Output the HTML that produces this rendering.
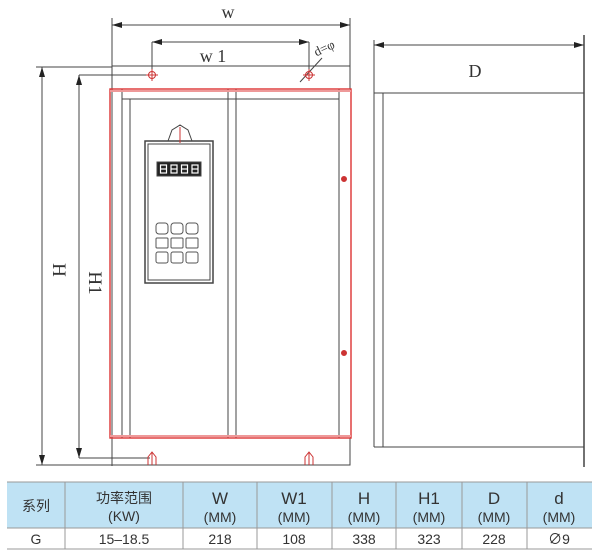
<!DOCTYPE html>
<html><head><meta charset="utf-8"><style>
body{margin:0;background:#fff;width:600px;height:555px;overflow:hidden}
svg{display:block}
.t{font-family:"Liberation Sans","Noto Sans CJK SC",sans-serif;fill:#333}
.s{font-family:"Liberation Serif",serif;fill:#333}
</style></head><body>
<svg width="600" height="555" viewBox="0 0 600 555" xmlns="http://www.w3.org/2000/svg">
<defs>
<marker id="a" viewBox="0 0 10 6" refX="10" refY="3" markerWidth="10" markerHeight="6" orient="auto-start-reverse" markerUnits="userSpaceOnUse"><path d="M0,0L10,3L0,6z" fill="#222"/></marker>
</defs>
<g stroke="#444" stroke-width="1" fill="none">
<line x1="112" y1="25" x2="350" y2="25" marker-start="url(#a)" marker-end="url(#a)"/>
<line x1="112" y1="18" x2="112" y2="466"/>
<line x1="350" y1="18" x2="350" y2="89"/>
<line x1="152" y1="42" x2="309" y2="42" marker-start="url(#a)" marker-end="url(#a)"/>
<line x1="152" y1="42" x2="152" y2="75"/>
<line x1="309" y1="42" x2="309" y2="75"/>
<line x1="300" y1="82" x2="322" y2="58"/>
<rect x="112" y="66" width="238" height="23"/>
<rect x="112" y="438" width="238" height="27"/>
<line x1="42" y1="67" x2="42" y2="465" marker-start="url(#a)" marker-end="url(#a)"/>
<line x1="36" y1="67" x2="112" y2="67"/>
<line x1="36" y1="465" x2="112" y2="465"/>
<line x1="79" y1="75" x2="79" y2="458" marker-start="url(#a)" marker-end="url(#a)"/>
<line x1="79" y1="75" x2="150" y2="75"/>
<line x1="79" y1="458" x2="150" y2="458"/>
<line x1="122" y1="89" x2="122" y2="438"/>
<line x1="130" y1="99" x2="130" y2="438"/>
<line x1="122" y1="99" x2="339" y2="99"/>
<line x1="228" y1="89" x2="228" y2="438"/>
<line x1="236" y1="89" x2="236" y2="438"/>
<line x1="339" y1="89" x2="339" y2="438"/>
<line x1="374" y1="45" x2="584" y2="45" marker-start="url(#a)" marker-end="url(#a)"/>
<line x1="374" y1="40" x2="374" y2="447"/>
<line x1="584" y1="35" x2="584" y2="467" stroke-width="1.5"/>
<line x1="374" y1="93" x2="584" y2="93"/>
<line x1="374" y1="447" x2="584" y2="447"/>
<line x1="383" y1="93" x2="383" y2="447"/>
<path d="M168,141 L172,130 L180,125 L188,130 L192,141"/>
<rect x="145" y="141" width="68" height="142" stroke-width="1.5"/>
<rect x="148" y="144" width="62" height="136"/>
<rect x="157" y="162" width="44" height="14" fill="#222"/>
<g stroke="#555">
<rect x="156" y="223" width="12" height="11" rx="3"/><rect x="171" y="223" width="12" height="11" rx="3"/><rect x="186" y="223" width="12" height="11" rx="3"/>
<rect x="156" y="238" width="12" height="10" rx="1"/><rect x="171" y="238" width="12" height="10" rx="1"/><rect x="186" y="238" width="12" height="10" rx="1"/>
<rect x="156" y="252" width="12" height="11" rx="2"/><rect x="171" y="252" width="12" height="11" rx="2"/><rect x="186" y="252" width="12" height="11" rx="2"/>
</g>
</g>
<g fill="none" stroke="#fff" stroke-width="1.2">
<rect x="160.5" y="165" width="6" height="8"/><line x1="160.5" y1="169" x2="166.5" y2="169"/>
<rect x="171" y="165" width="6" height="8"/><line x1="171" y1="169" x2="177" y2="169"/>
<rect x="181.5" y="165" width="6" height="8"/><line x1="181.5" y1="169" x2="187.5" y2="169"/>
<rect x="192" y="165" width="6" height="8"/><line x1="192" y1="169" x2="198" y2="169"/>
</g>
<rect x="110" y="89" width="241" height="349" fill="none" stroke="#d33" stroke-width="1.4"/>
<line x1="110" y1="91" x2="351" y2="91" stroke="#e99" stroke-width="2"/>
<line x1="110" y1="436" x2="351" y2="436" stroke="#e99" stroke-width="2"/>
<line x1="180" y1="127" x2="180" y2="143" stroke="#c33"/>
<g stroke="#c33" fill="none">
<circle cx="152" cy="75" r="3.5"/><line x1="146" y1="75" x2="158" y2="75"/><line x1="152" y1="69" x2="152" y2="81"/>
<circle cx="309" cy="75" r="3.5"/><line x1="303" y1="75" x2="315" y2="75"/><line x1="309" y1="69" x2="309" y2="81"/>
<path d="M148,465 L148,457 L152,452 L156,457 L156,465"/><line x1="152" y1="452" x2="152" y2="465"/>
<path d="M305,465 L305,457 L309,452 L313,457 L313,465"/><line x1="309" y1="452" x2="309" y2="465"/>
<circle cx="344" cy="179" r="2.5" fill="#c33"/><circle cx="344" cy="353" r="2.5" fill="#c33"/>
</g>
<text class="s" x="228" y="18" font-size="18" text-anchor="middle">w</text>
<text class="s" x="213" y="62" font-size="18" text-anchor="middle">w 1</text>
<text class="s" x="326" y="52" font-size="13" transform="rotate(-25 326 52)" text-anchor="middle">d=φ</text>
<text class="s" x="475" y="77" font-size="18" text-anchor="middle">D</text>
<text class="s" x="0" y="0" font-size="19" text-anchor="middle" transform="translate(53 270) rotate(90)">H</text>
<text class="s" x="0" y="0" font-size="19" text-anchor="middle" transform="translate(89 283) rotate(90)">H1</text>
<rect x="7" y="482" width="585" height="46" fill="#bfe2f4"/>
<g stroke="#999" stroke-width="1">
<line x1="7" y1="482" x2="592" y2="482"/>
<line x1="7" y1="528" x2="592" y2="528"/>
<line x1="7" y1="549" x2="592" y2="549"/>
<line x1="65" y1="482" x2="65" y2="549"/><line x1="183" y1="482" x2="183" y2="549"/>
<line x1="257" y1="482" x2="257" y2="549"/><line x1="332" y1="482" x2="332" y2="549"/>
<line x1="396" y1="482" x2="396" y2="549"/><line x1="462" y1="482" x2="462" y2="549"/>
<line x1="527" y1="482" x2="527" y2="549"/>
</g>
<g class="t" text-anchor="middle" font-size="14">
<text x="36" y="511">系列</text>
<text x="124" y="503">功率范围</text><text x="124" y="521">(KW)</text>
<text x="220" y="504" font-size="17">W</text><text x="220" y="522">(MM)</text>
<text x="294" y="504" font-size="17">W1</text><text x="294" y="522">(MM)</text>
<text x="364" y="504" font-size="17">H</text><text x="364" y="522">(MM)</text>
<text x="429" y="504" font-size="17">H1</text><text x="429" y="522">(MM)</text>
<text x="494" y="504" font-size="17">D</text><text x="494" y="522">(MM)</text>
<text x="559" y="504" font-size="17">d</text><text x="559" y="522">(MM)</text>
<text x="36" y="544">G</text><text x="124" y="544">15–18.5</text>
<text x="220" y="544">218</text><text x="294" y="544">108</text>
<text x="364" y="544">338</text><text x="429" y="544">323</text>
<text x="494" y="544">228</text><text x="559" y="544">∅9</text>
</g>
</svg>
</body></html>
